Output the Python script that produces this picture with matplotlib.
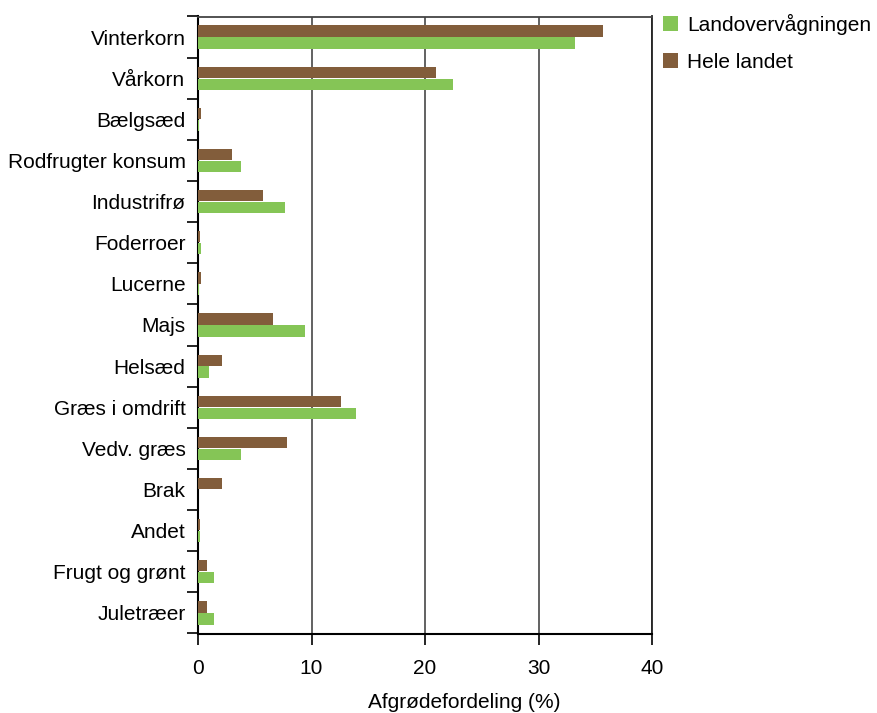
import matplotlib
matplotlib.use("Agg")
import matplotlib.pyplot as plt
from matplotlib.patches import Patch
import numpy as np

plt.rcParams['font.family'] = ['Liberation Sans', 'DejaVu Sans']

categories = ["Vinterkorn", "Vårkorn", "Bælgsæd", "Rodfrugter konsum", "Industrifrø",
              "Foderroer", "Lucerne", "Majs", "Helsæd", "Græs i omdrift",
              "Vedv. græs", "Brak", "Andet", "Frugt og grønt", "Juletræer"]
hele_landet = [35.7, 21.0, 0.25, 3.0, 5.7, 0.15, 0.25, 6.6, 2.1, 12.6, 7.8, 2.1, 0.15, 0.75, 0.75]
landovervaagning = [33.2, 22.5, 0.1, 3.8, 7.7, 0.25, 0.1, 9.4, 1.0, 13.9, 3.8, 0.0, 0.15, 1.4, 1.4]
xticks = [0, 10, 20, 30, 40]

brown = "#825d3b"
green = "#85c556"

W, H = 877, 713
fig = plt.figure(figsize=(W / 100, H / 100), dpi=100)
ax = fig.add_axes([198 / W, 1 - 633.5 / H, (652 - 198) / W, (633.5 - 16.5) / H])

y = np.arange(len(categories))
bh = 0.275
ax.barh(y - 0.145, hele_landet, height=bh, color=brown, edgecolor="none", zorder=3)
ax.barh(y + 0.145, landovervaagning, height=bh, color=green, edgecolor="none", zorder=3)

ax.set_xlim(0, 40)
ax.set_ylim(len(categories) - 0.5, -0.5)

ax.set_xticks(xticks)
ax.set_xticklabels([str(v) for v in xticks], fontsize=15)
ax.tick_params(axis="x", direction="out", length=8, width=1.2, pad=10, color="black")

ax.set_yticks(y)
ax.set_yticklabels(categories, fontsize=15)
ax.set_yticks(np.arange(-0.5, len(categories), 1.0), minor=True)
ax.tick_params(axis="y", which="major", length=0, pad=9)
ax.tick_params(axis="y", which="minor", direction="out", length=8, width=1.2, color="black")

ax.grid(axis="x", color="#555555", linewidth=1.3, zorder=0)
for side in ("left", "bottom"):
    ax.spines[side].set_color("black")
    ax.spines[side].set_linewidth(1.5)
ax.spines["top"].set_color("#444444")
ax.spines["top"].set_linewidth(1.3)
ax.spines["right"].set_color("#222222")
ax.spines["right"].set_linewidth(1.3)

fig.text(464 / W, 1 - 708 / H, "Afgrødefordeling (%)", fontsize=15, ha="center", va="baseline")

handles = [Patch(facecolor=green, edgecolor="none"), Patch(facecolor=brown, edgecolor="none")]
fig.legend(handles, ["Landovervågningen", "Hele landet"], loc="upper left",
           bbox_to_anchor=(663 / W, 1 - 14 / H), frameon=False, fontsize=15,
           handlelength=0.7, handleheight=0.7, handletextpad=0.45,
           labelspacing=0.85, borderpad=0, borderaxespad=0)

fig.savefig("out.png", dpi=100)
